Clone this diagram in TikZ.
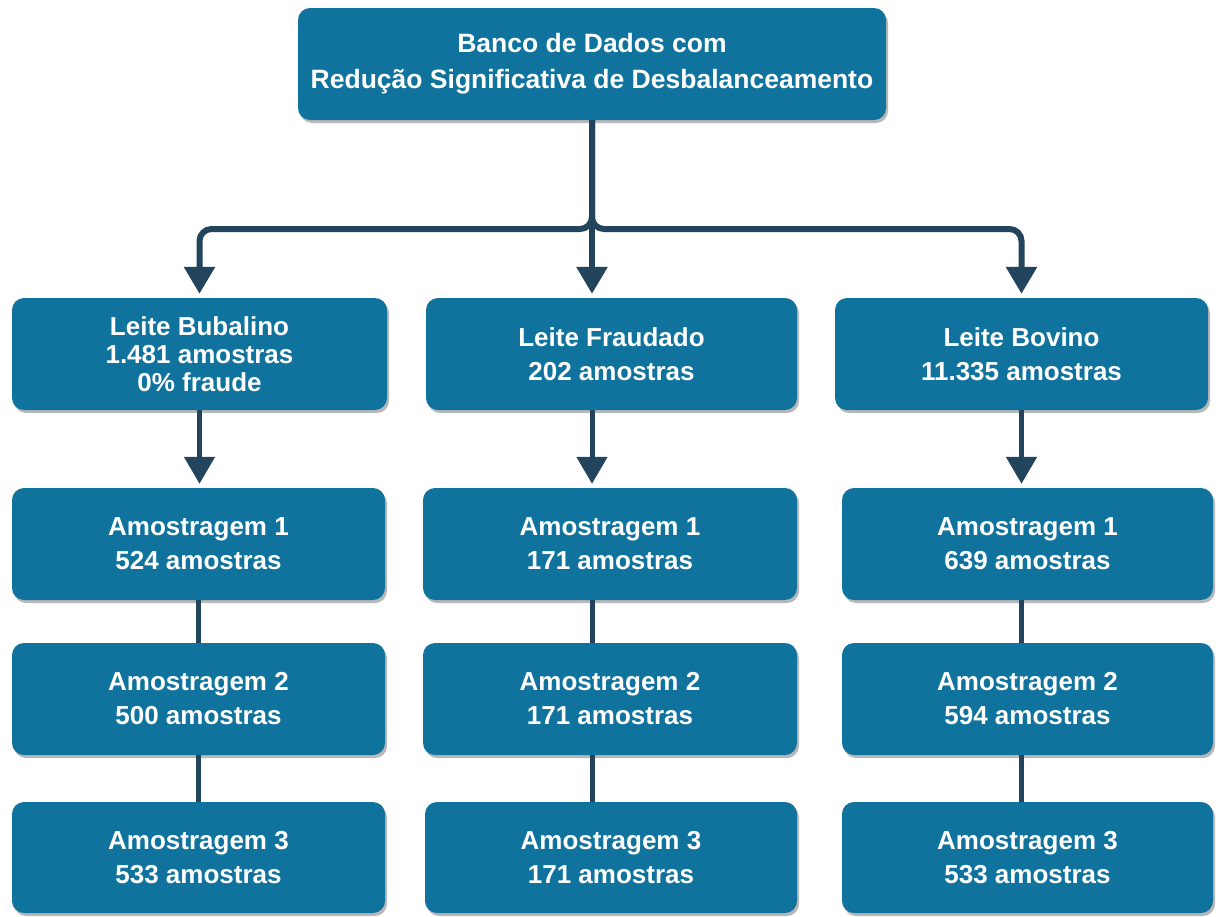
\documentclass[tikz,border=0pt]{standalone}
\usepackage{fontspec}
\setmainfont{Liberation Sans}
\usetikzlibrary{arrows.meta,shadows,calc}
\definecolor{boxblue}{HTML}{10739E}
\definecolor{linenavy}{HTML}{23445D}
\tikzset{
  box/.style={rectangle, rounded corners=12pt, fill=boxblue, text=white,
    align=center, inner sep=0pt, minimum height=112pt,
    font=\fontsize{26}{34}\selectfont\bfseries,
    drop shadow={shadow xshift=2pt, shadow yshift=-3pt, fill=black, opacity=0.28}},
  topbox/.style={box, font=\fontsize{26.5}{36}\selectfont\bfseries},
  threeline/.style={font=\fontsize{26}{28}\selectfont\bfseries},
  conn/.style={draw=linenavy, line width=6pt},
  link/.style={draw=linenavy, line width=5pt},
  arr/.style={-{Triangle[width=30pt,length=27pt]}, shorten >=4pt},
}
\begin{document}
\begin{tikzpicture}[x=1pt,y=-1pt]
\useasboundingbox (0,0) rectangle (1226,916);
\fill[white] (0,0) rectangle (1226,916);

\node[topbox, minimum width=588pt] (top) at (592,64) {Banco de Dados com\\Redução Significativa de Desbalanceamento};

\node[box, threeline, minimum width=375pt] (L1) at (199.5,354) {Leite Bubalino\\1.481 amostras\\0\% fraude};
\node[box, minimum width=371pt] (M1) at (611.5,354) {Leite Fraudado\\202 amostras};
\node[box, minimum width=373pt] (R1) at (1021.5,354) {Leite Bovino\\11.335 amostras};

\node[box, minimum width=373pt] (L2) at (198.5,544) {Amostragem 1\\524 amostras};
\node[box, minimum width=374pt] (M2) at (610,544) {Amostragem 1\\171 amostras};
\node[box, minimum width=371pt] (R2) at (1027.5,544) {Amostragem 1\\639 amostras};

\node[box, minimum width=373pt] (L3) at (198.5,699) {Amostragem 2\\500 amostras};
\node[box, minimum width=374pt] (M3) at (610,699) {Amostragem 2\\171 amostras};
\node[box, minimum width=371pt] (R3) at (1027.5,699) {Amostragem 2\\594 amostras};

\node[box, minimum width=373pt, minimum height=111pt] (L4) at (198.5,857.5) {Amostragem 3\\533 amostras};
\node[box, minimum width=372pt, minimum height=111pt] (M4) at (611,857.5) {Amostragem 3\\171 amostras};
\node[box, minimum width=371pt, minimum height=111pt] (R4) at (1027.5,857.5) {Amostragem 3\\533 amostras};

\coordinate (bj) at (592,229);

% branching from the top box
\draw[conn, arr, rounded corners=12pt] (top.south) -- (bj) -| (L1.north);
\draw[conn, arr, rounded corners=12pt] (top.south) -- (bj) -| (R1.north);
\draw[conn, arr] (top.south) -- (top.south |- M1.north);

% row 1 -> row 2
\draw[link, arr] (L1.south) -- (L1.south |- L2.north);
\draw[link, arr] (top.south |- M1.south) -- (top.south |- M2.north);
\draw[link, arr] (R1.south) -- (R1.south |- R2.north);

% row 2 -> row 3 -> row 4
\draw[link] (L2.south) -- (L2.south |- L3.north);
\draw[link] (L3.south) -- (L3.south |- L4.north);
\draw[link] (top.south |- M2.south) -- (top.south |- M3.north);
\draw[link] (top.south |- M3.south) -- (top.south |- M4.north);
\draw[link] (R1.south |- R2.south) -- (R1.south |- R3.north);
\draw[link] (R1.south |- R3.south) -- (R1.south |- R4.north);
\end{tikzpicture}
\end{document}
